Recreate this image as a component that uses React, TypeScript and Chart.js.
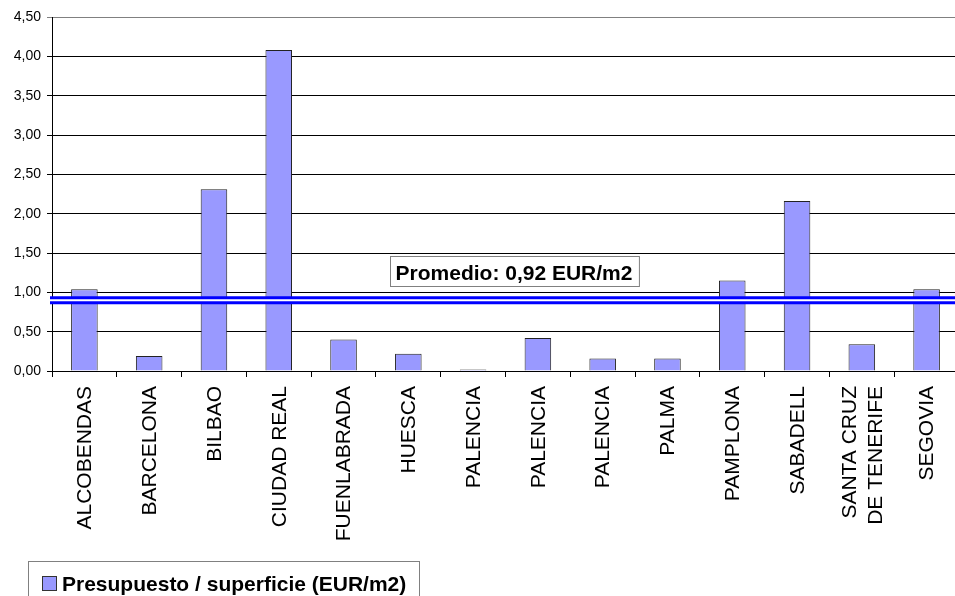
import React, { useEffect, useRef } from "react";
import { Chart, registerables } from "chart.js";

Chart.register(...registerables);

const categories: (string | string[])[] = [
  "ALCOBENDAS",
  "BARCELONA",
  "BILBAO",
  "CIUDAD REAL",
  "FUENLABRADA",
  "HUESCA",
  "PALENCIA",
  "PALENCIA",
  "PALENCIA",
  "PALMA",
  "PAMPLONA",
  "SABADELL",
  ["SANTA CRUZ", "DE TENERIFE"],
  "SEGOVIA",
];

const seriesLabel = "Presupuesto / superficie (EUR/m2)";
const seriesValues = [1.04, 0.19, 2.31, 4.08, 0.4, 0.22, 0.02, 0.42, 0.16, 0.16, 1.15, 2.16, 0.34, 1.04];

const yMin = 0;
const yMax = 4.5;
const yStep = 0.5;

const promedioText = "Promedio: 0,92 EUR/m2";
const promedioLineValue = 0.9;

const FONT = "'Liberation Sans', Arial, sans-serif";

const promedioPlugin = {
  id: "promedio",
  afterDatasetsDraw(chart: any) {
    const { ctx, scales, chartArea } = chart;
    const y = scales.y.getPixelForValue(promedioLineValue);
    ctx.save();
    ctx.strokeStyle = "#0000FF";
    ctx.lineWidth = 8;
    ctx.beginPath();
    ctx.moveTo(chartArea.left - 2, y);
    ctx.lineTo(chart.width, y);
    ctx.stroke();
    ctx.strokeStyle = "#FFFFFF";
    ctx.lineWidth = 2;
    ctx.beginPath();
    ctx.moveTo(chartArea.left - 2, y);
    ctx.lineTo(chart.width, y);
    ctx.stroke();

    ctx.font = `bold 21px ${FONT}`;
    const tw = ctx.measureText(promedioText).width;
    const cx = 514;
    const bw = tw + 12;
    const bh = 30;
    const bx = Math.round(cx - bw / 2) + 0.5;
    const by = Math.round(y - 14 - bh) + 0.5;
    ctx.fillStyle = "#FFFFFF";
    ctx.fillRect(bx, by, bw, bh);
    ctx.strokeStyle = "#808080";
    ctx.lineWidth = 1;
    ctx.strokeRect(bx, by, bw, bh);
    ctx.fillStyle = "#000000";
    ctx.textAlign = "center";
    ctx.textBaseline = "alphabetic";
    ctx.fillText(promedioText, cx, by + 23);
    ctx.restore();
  },
};

const xLabelsPlugin = {
  id: "xLabels",
  afterDraw(chart: any) {
    const { ctx, scales, chartArea } = chart;
    const xs = scales.x;
    const lineHeight = 26;
    ctx.save();
    ctx.fillStyle = "#000000";
    ctx.font = `21px ${FONT}`;
    ctx.textAlign = "right";
    ctx.textBaseline = "middle";
    chart.data.labels.forEach((lab: any, i: number) => {
      const lines = Array.isArray(lab) ? lab : [lab];
      const x = xs.getPixelForValue(i);
      ctx.save();
      ctx.translate(x, chartArea.bottom + 15);
      ctx.rotate(-Math.PI / 2);
      lines.forEach((ln: string, j: number) => {
        const off = (j - (lines.length - 1) / 2) * lineHeight;
        ctx.fillText(ln, 0, off + 1);
      });
      ctx.restore();
    });
    ctx.restore();
  },
};

const legendPlugin = {
  id: "boxLegend",
  afterDraw(chart: any) {
    const { ctx } = chart;
    const ds = chart.data.datasets[0];
    ctx.save();
    ctx.strokeStyle = "#808080";
    ctx.lineWidth = 1;
    ctx.fillStyle = "#FFFFFF";
    ctx.fillRect(28.5, 561.5, 391, 40);
    ctx.strokeRect(28.5, 561.5, 391, 40);
    ctx.fillStyle = ds.backgroundColor;
    ctx.fillRect(42.5, 576.5, 14, 14);
    ctx.strokeStyle = "#333333";
    ctx.strokeRect(42.5, 576.5, 14, 14);
    ctx.fillStyle = "#000000";
    ctx.font = `bold 21px ${FONT}`;
    ctx.textBaseline = "alphabetic";
    ctx.textAlign = "left";
    ctx.fillText(ds.label, 62, 591);
    ctx.restore();
  },
};

export default function App() {
  const canvasRef = useRef<HTMLCanvasElement | null>(null);

  useEffect(() => {
    if (!canvasRef.current) return;
    const chart = new Chart(canvasRef.current, {
      type: "bar",
      data: {
        labels: categories,
        datasets: [
          {
            label: seriesLabel,
            data: seriesValues,
            backgroundColor: "#9999FF",
            borderColor: "#222222",
            borderWidth: 1,
            barPercentage: 0.41,
            categoryPercentage: 1,
          },
        ],
      },
      options: {
        animation: false,
        responsive: false,
        devicePixelRatio: 1,
        layout: { padding: { top: 17, right: 11, left: 0, bottom: 0 } },
        plugins: {
          legend: { display: false },
          tooltip: { enabled: false },
        },
        scales: {
          x: {
            afterFit(scale: any) {
              scale.height = 225;
            },
            grid: {
              offset: true,
              drawOnChartArea: false,
              drawTicks: true,
              tickLength: 6,
              color: "#000000",
            },
            border: { color: "#000000" },
            ticks: {
              display: false,
              autoSkip: false,
            },
          },
          y: {
            min: yMin,
            max: yMax,
            afterFit(scale: any) {
              scale.width = 52;
            },
            grid: {
              color: (c: any) => (c.tick && c.tick.value === yMax ? "#808080" : "#000000"),
              tickLength: 5,
            },
            border: { color: "#000000" },
            ticks: {
              stepSize: yStep,
              padding: 6,
              color: "#000000",
              font: { family: FONT, size: 14 },
              callback: (v: any) => Number(v).toFixed(2).replace(".", ","),
            },
          },
        },
      },
      plugins: [promedioPlugin, xLabelsPlugin, legendPlugin],
    });
    return () => chart.destroy();
  }, []);

  return (
    <div
      style={{
        position: "absolute",
        left: 0,
        top: 0,
        width: 955,
        height: 596,
        overflow: "hidden",
        background: "#FFFFFF",
      }}
    >
      <canvas ref={canvasRef} width={970} height={596} style={{ display: "block" }} />
    </div>
  );
}
